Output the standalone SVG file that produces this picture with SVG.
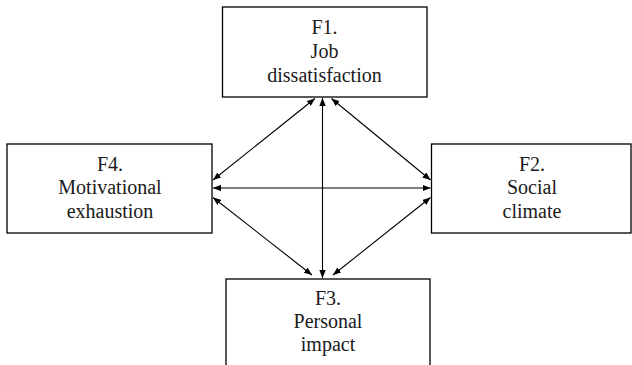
<svg xmlns="http://www.w3.org/2000/svg" width="632" height="365" viewBox="0 0 632 365">
<style>
.box{fill:#fff;stroke:#000;stroke-width:1.3}
.t{font-size:20px;fill:#1a1a1a;text-anchor:middle}
.c{stroke:#000;stroke-width:1.1;fill:none;marker-start:url(#ah);marker-end:url(#ah)}
</style>
<defs>
<marker id="ah" viewBox="0 0 10 8" refX="10" refY="4" markerWidth="8" markerHeight="6.4" markerUnits="userSpaceOnUse" orient="auto-start-reverse">
<path d="M0,0 L10,4 L0,8 z" fill="#000"/>
</marker>
</defs>
<rect width="632" height="365" fill="#fff"/>
<g font-family="'Liberation Serif', 'DejaVu Serif', serif">
<g id="F1">
<rect class="box" x="222.5" y="7" width="204.5" height="90"/>
<text class="t" x="324.5" y="34">F1.</text>
<text class="t" x="324.5" y="57.5">Job</text>
<text class="t" x="324.5" y="81.5">dissatisfaction</text>
</g>
<g id="F4">
<rect class="box" x="7" y="144" width="205" height="89"/>
<text class="t" x="110" y="170.5">F4.</text>
<text class="t" x="110" y="194">Motivational</text>
<text class="t" x="110" y="217.5">exhaustion</text>
</g>
<g id="F2">
<rect class="box" x="431.5" y="144" width="199.5" height="89"/>
<text class="t" x="532" y="170.5">F2.</text>
<text class="t" x="532" y="194">Social</text>
<text class="t" x="532" y="217.5">climate</text>
</g>
<g id="F3">
<rect class="box" x="226" y="279" width="204" height="100"/>
<text class="t" x="328" y="304.5">F3.</text>
<text class="t" x="328" y="328">Personal</text>
<text class="t" x="328" y="351">impact</text>
</g>
</g>
<g id="connectors">
<line class="c" x1="322.5" y1="98" x2="322.5" y2="278"/>
<line class="c" x1="213" y1="188" x2="430.5" y2="188"/>
<line class="c" x1="213" y1="180" x2="315" y2="98.5"/>
<line class="c" x1="331.5" y1="98.5" x2="430.5" y2="180"/>
<line class="c" x1="213" y1="197.5" x2="312" y2="275"/>
<line class="c" x1="430.5" y1="197.5" x2="333" y2="275"/>
</g>
</svg>
